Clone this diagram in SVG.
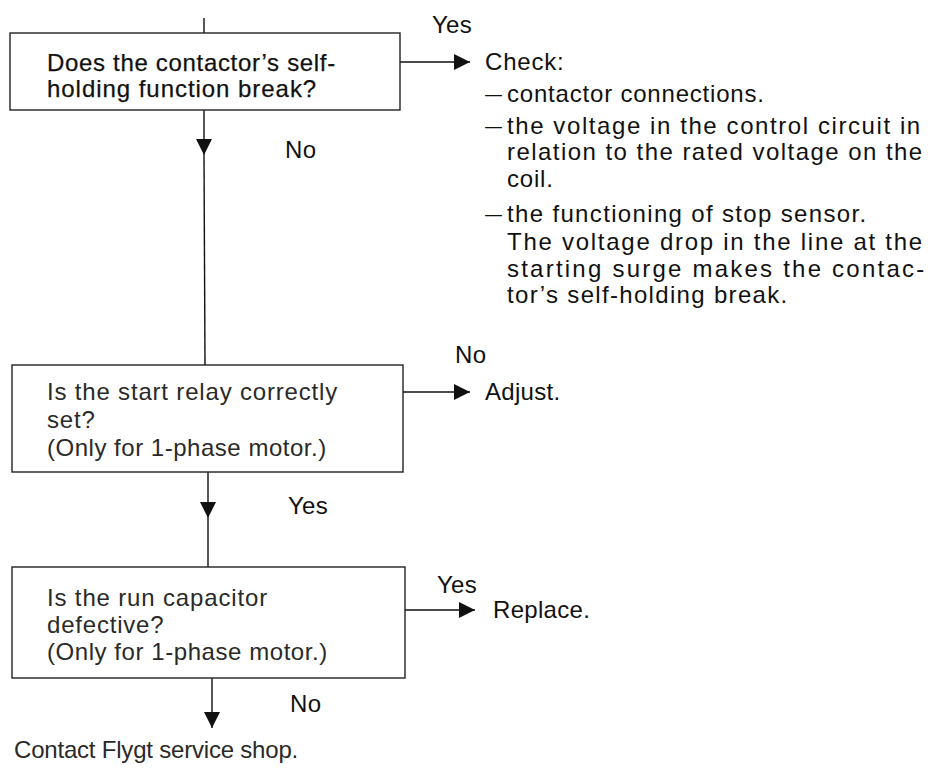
<svg xmlns="http://www.w3.org/2000/svg" width="933" height="769" viewBox="0 0 933 769">
<defs>
<marker id="ah" viewBox="0 0 16 16" refX="16" refY="8" markerWidth="16" markerHeight="16" markerUnits="userSpaceOnUse" orient="auto"><path d="M0,0 L16,8 L0,16 z" fill="#111"/></marker>
<style>
text{font-family:"Liberation Sans",Arial,sans-serif;font-size:24px;fill:#111;letter-spacing:0.8px}
.dk{stroke:#111;stroke-width:0.25}
.box{fill:none;stroke:#222;stroke-width:1.4}
.ln{fill:none;stroke:#111;stroke-width:1.4}
.arr{fill:none;stroke:#111;stroke-width:1.4;marker-end:url(#ah)}
.lt{fill:#2a2a2a}
.lbl{letter-spacing:0.3px}
.dash{font-size:17px;letter-spacing:0}
</style>
</defs>
<rect width="933" height="769" fill="#fff"/>
<g id="connectors">
<line class="ln" x1="204" y1="18" x2="204" y2="33"/>
<line class="arr" x1="400" y1="62" x2="470" y2="62"/>
<line class="arr" x1="204" y1="110" x2="204" y2="155"/>
<line class="ln" x1="204" y1="155" x2="205" y2="365"/>
<line class="arr" x1="403" y1="392" x2="470" y2="392"/>
<line class="arr" x1="208" y1="472" x2="208" y2="518"/>
<line class="ln" x1="208" y1="518" x2="208" y2="567"/>
<line class="arr" x1="405" y1="610" x2="475" y2="610"/>
<line class="arr" x1="212" y1="678" x2="212" y2="728"/>
<text class="lbl" x="432" y="33">Yes</text>
<text class="lbl" x="285" y="158">No</text>
<text class="lbl" x="455" y="363">No</text>
<text class="lbl" x="288" y="514">Yes</text>
<text class="lbl" x="437" y="593">Yes</text>
<text class="lbl" x="290" y="712">No</text>
</g>
<g id="q1">
<rect class="box" x="10" y="33" width="390" height="77"/>
<text class="dk" x="47" y="71" textLength="289">Does the contactor’s self-</text>
<text class="dk" x="47" y="97" textLength="270">holding function break?</text>
</g>
<g id="check">
<text x="485" y="70">Check:</text>
<text class="dash" x="485" y="100">—</text>
<text x="507" y="102">contactor connections.</text>
<text class="dash" x="485" y="132">—</text>
<text x="507" y="134" textLength="414">the voltage in the control circuit in</text>
<text x="507" y="160" textLength="416">relation to the rated voltage on the</text>
<text x="507" y="187">coil.</text>
<text class="dash" x="485" y="220">—</text>
<text x="507" y="222" textLength="360">the functioning of stop sensor.</text>
<text x="507" y="250" textLength="416">The voltage drop in the line at the</text>
<text x="507" y="277" textLength="418">starting surge makes the contac-</text>
<text x="507" y="303" textLength="281">tor’s self-holding break.</text>
</g>
<g id="q2">
<rect class="box" x="12" y="365" width="391" height="107"/>
<text class="lt" x="47" y="400" textLength="291">Is the start relay correctly</text>
<text class="lt" x="47" y="428">set?</text>
<text class="lt" x="47" y="456" textLength="280">(Only for 1-phase motor.)</text>
</g>
<g id="adjust">
<text class="lbl" x="485" y="400">Adjust.</text>
</g>
<g id="q3">
<rect class="box" x="12" y="567" width="393" height="111"/>
<text class="lt" x="47" y="606" textLength="221">Is the run capacitor</text>
<text class="lt" x="47" y="633">defective?</text>
<text class="lt" x="47" y="660" textLength="281">(Only for 1-phase motor.)</text>
</g>
<g id="replace">
<text class="lbl" x="493" y="618">Replace.</text>
</g>
<g id="contact">
<text class="lt" x="14" y="758" textLength="285">Contact Flygt service shop.</text>
</g>
</svg>
